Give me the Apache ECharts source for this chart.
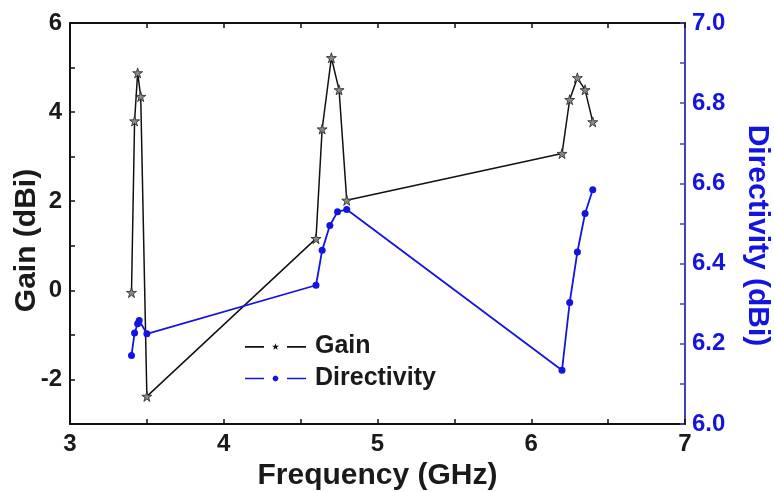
<!DOCTYPE html>
<html><head><meta charset="utf-8">
<script src="https://cdn.jsdelivr.net/npm/echarts@6/dist/echarts.min.js"></script>
<style>html,body{margin:0;padding:0;background:#fff}#c{width:774px;height:492px}</style>
</head><body><div id="c"></div>
<script>
const gainFreq = [3.40, 3.42, 3.44, 3.46, 3.50, 4.60, 4.64, 4.70, 4.75, 4.80, 6.20, 6.25, 6.30, 6.35, 6.40];
const gainVals = [-0.05, 3.80, 4.88, 4.35, -2.38, 1.16, 3.62, 5.22, 4.50, 2.02, 3.07, 4.28, 4.77, 4.50, 3.78];
const dirFreq = [3.40, 3.42, 3.44, 3.45, 3.50, 4.60, 4.64, 4.69, 4.74, 4.80, 6.20, 6.25, 6.30, 6.35, 6.40];
const dirVals = [6.171, 6.227, 6.250, 6.258, 6.225, 6.346, 6.433, 6.495, 6.529, 6.535, 6.134, 6.303, 6.429, 6.525, 6.584];
const xTicks = [3, 4, 5, 6, 7];
const gainTicks = [-2, 0, 2, 4, 6];
const dirTicks = [6.0, 6.2, 6.4, 6.6, 6.8, 7.0];

const BLUE = '#1414e0';
const FONT = 'Liberation Sans, Arial, sans-serif';
const STAR = 'path://M50,0 L61,35 L98,35 L68,57 L79,91 L50,70 L21,91 L32,57 L2,35 L39,35 Z';
const LEG_GAIN = 'path://M0,2.8 L19,2.8 L19,4.4 L0,4.4 Z M42,2.8 L61,2.8 L61,4.4 L42,4.4 Z ' +
  'M30.5,0 L31.38,2.39 L33.92,2.49 L31.93,4.06 L32.62,6.51 L30.5,5.1 L28.38,6.51 L29.07,4.06 L27.08,2.49 L29.62,2.39 Z';
const LEG_DIR = 'path://M0,2.2 L19,2.2 L19,3.8 L0,3.8 Z M42,2.2 L61,2.2 L61,3.8 L42,3.8 Z ' +
  'M33.5,3 L32.62,5.12 L30.5,6 L28.38,5.12 L27.5,3 L28.38,0.88 L30.5,0 L32.62,0.88 Z';

const chart = echarts.init(document.getElementById('c'));
chart.setOption({
  animation: false,
  grid: { left: 70, right: 89, top: 23, bottom: 68, containLabel: false, outerBoundsMode: 'none' },
  legend: {
    orient: 'vertical', left: 240, top: 329, itemGap: 7,
    itemWidth: 61, itemHeight: 7,
    textStyle: { fontFamily: FONT, fontSize: 25, fontWeight: 'bold', color: '#1a1a1a', padding: [0, 0, 0, 4] },
    data: [
      { name: 'Gain', icon: LEG_GAIN, itemStyle: { color: '#111', borderWidth: 0 } },
      { name: 'Directivity', icon: LEG_DIR, itemStyle: { color: BLUE, borderWidth: 0 } }
    ]
  },
  xAxis: [{
    type: 'value', min: 3, max: 7, interval: 0.5, position: 'bottom',
    name: 'Frequency (GHz)', nameLocation: 'middle', nameGap: 37, nameMoveOverlap: false,
    nameTextStyle: { fontFamily: FONT, fontSize: 30, fontWeight: 'bold', color: '#1a1a1a' },
    axisLine: { onZero: false, lineStyle: { color: '#111', width: 2 } },
    axisTick: { inside: true, length: 5, lineStyle: { color: '#111', width: 1.5 } },
    axisLabel: { margin: 8, fontFamily: FONT, fontSize: 24, fontWeight: 'bold', color: '#1a1a1a',
      formatter: v => xTicks.includes(v) ? String(v) : '' },
    splitLine: { show: false }
  }, {
    type: 'value', min: 3, max: 7, interval: 0.5, position: 'top',
    axisLine: { onZero: false, lineStyle: { color: '#111', width: 2 } },
    axisTick: { inside: true, length: 5, lineStyle: { color: '#111', width: 1.5 } },
    axisLabel: { show: false }, splitLine: { show: false }
  }],
  yAxis: [{
    type: 'value', min: -3, max: 6, interval: 1, position: 'left',
    name: 'Gain (dBi)', nameLocation: 'middle', nameGap: 28, nameRotate: 90, nameMoveOverlap: false,
    nameTextStyle: { fontFamily: FONT, fontSize: 30, fontWeight: 'bold', color: '#1a1a1a', padding: [0, 0, 0, -34] },
    axisLine: { onZero: false, lineStyle: { color: '#111', width: 2 } },
    axisTick: { inside: true, length: 5, lineStyle: { color: '#111', width: 1.5 } },
    axisLabel: { margin: 8, fontFamily: FONT, fontSize: 24, fontWeight: 'bold', color: '#1a1a1a',
      formatter: v => gainTicks.includes(v) ? String(v) : '' },
    splitLine: { show: false }
  }, {
    type: 'value', min: 6.0, max: 7.0, interval: 0.1, position: 'right',
    name: 'Directivity (dBi)', nameLocation: 'middle', nameGap: 57, nameRotate: -90, nameMoveOverlap: false,
    nameTextStyle: { fontFamily: FONT, fontSize: 30, fontWeight: 'bold', color: BLUE, padding: [0, 0, 0, 24] },
    axisLine: { onZero: false, lineStyle: { color: '#4040c0', width: 2 } },
    axisTick: { inside: true, length: 5, lineStyle: { color: '#4040c0', width: 1.5 } },
    axisLabel: { margin: 7, fontFamily: FONT, fontSize: 24, fontWeight: 'bold', color: BLUE,
      formatter: v => { const r = Math.round(v * 10) / 10; return dirTicks.some(t => Math.abs(t - r) < 1e-6) ? r.toFixed(1) : ''; } },
    splitLine: { show: false }
  }],
  series: [{
    name: 'Gain', type: 'line', xAxisIndex: 0, yAxisIndex: 0,
    data: gainFreq.map((f, i) => [f, gainVals[i]]),
    symbol: STAR, symbolSize: 10, color: '#111',
    lineStyle: { color: '#111', width: 1.5 },
    itemStyle: { color: '#888', borderColor: '#222', borderWidth: 0.8 }
  }, {
    name: 'Directivity', type: 'line', xAxisIndex: 0, yAxisIndex: 1,
    data: dirFreq.map((f, i) => [f, dirVals[i]]),
    symbol: 'circle', symbolSize: 7, color: BLUE,
    lineStyle: { color: BLUE, width: 1.8 },
    itemStyle: { color: BLUE }
  }]
});
</script></body></html>
